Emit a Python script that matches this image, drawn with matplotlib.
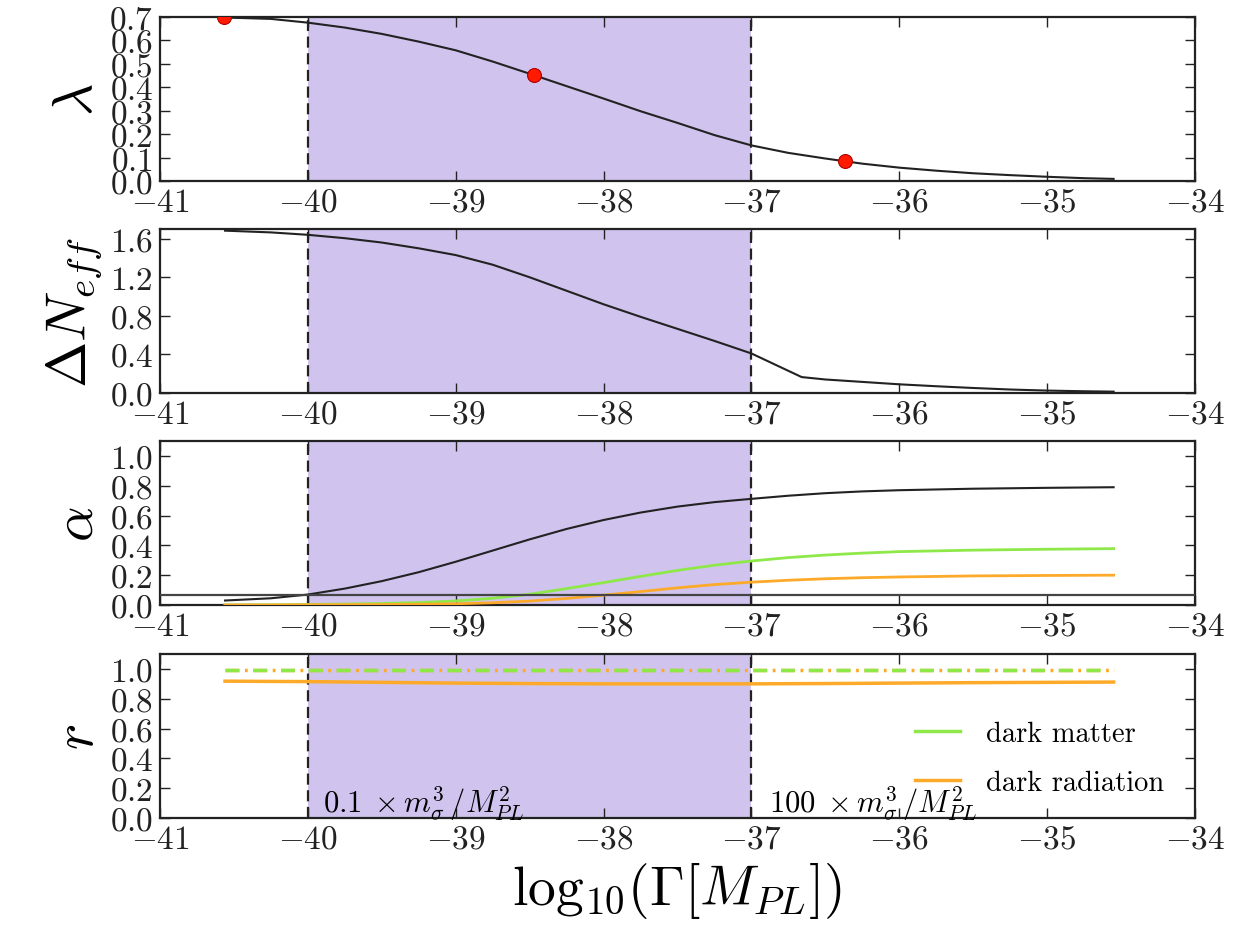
import matplotlib
matplotlib.use("Agg")
import matplotlib.pyplot as plt
from matplotlib.ticker import FormatStrFormatter, MultipleLocator

plt.rcParams['font.family'] = ['cmr10', 'DejaVu Serif']
plt.rcParams['mathtext.fontset'] = 'cm'
plt.rcParams['lines.scale_dashes'] = False
plt.rcParams['axes.unicode_minus'] = False

# ---------------- data ----------------
lam_x = [-40.57, -40.25, -40.0, -39.75, -39.5, -39.25, -39.0, -38.75, -38.5, -38.25, -38.0,
         -37.75, -37.5, -37.25, -37.0, -36.75, -36.5, -36.25, -36.0, -35.75, -35.5, -35.25,
         -35.0, -34.75, -34.55]
lam_y = [0.698, 0.692, 0.676, 0.655, 0.628, 0.595, 0.558, 0.510, 0.458, 0.405, 0.352,
         0.298, 0.248, 0.196, 0.152, 0.120, 0.096, 0.074, 0.057, 0.044, 0.033, 0.025,
         0.018, 0.012, 0.009]
dot_x = [-40.57, -38.47, -36.37]
dot_y = [0.698, 0.452, 0.084]

dn_x = [-40.56, -40.25, -40.0, -39.75, -39.5, -39.25, -39.0, -38.75, -38.5, -38.25, -38.0,
        -37.75, -37.5, -37.25, -37.0, -36.66, -36.5, -36.25, -36.0, -35.75, -35.5, -35.25,
        -35.0, -34.75, -34.55]
dn_y = [1.683, 1.665, 1.640, 1.605, 1.560, 1.500, 1.430, 1.330, 1.200, 1.060, 0.920,
        0.790, 0.665, 0.540, 0.410, 0.165, 0.140, 0.115, 0.090, 0.070, 0.052, 0.036,
        0.025, 0.018, 0.014]

al_x = [-40.56, -40.25, -40.0, -39.75, -39.5, -39.25, -39.0, -38.75, -38.5, -38.25, -38.0,
        -37.75, -37.5, -37.25, -37.0, -36.75, -36.5, -36.25, -36.0, -35.5, -35.0, -34.55]
al_tot = [0.030, 0.045, 0.070, 0.110, 0.160, 0.220, 0.290, 0.365, 0.440, 0.510, 0.570,
          0.620, 0.660, 0.690, 0.712, 0.733, 0.750, 0.762, 0.770, 0.780, 0.786, 0.790]
al_dm = [0.000, 0.001, 0.003, 0.006, 0.010, 0.016, 0.027, 0.045, 0.072, 0.110, 0.150,
         0.192, 0.232, 0.267, 0.295, 0.318, 0.335, 0.348, 0.358, 0.368, 0.374, 0.378]
al_dr = [0.000, 0.000, 0.001, 0.002, 0.003, 0.005, 0.008, 0.015, 0.026, 0.044, 0.066,
         0.090, 0.115, 0.137, 0.153, 0.166, 0.176, 0.183, 0.188, 0.195, 0.198, 0.200]
al_ref = 0.07

r_x = [-40.56, -40.0, -39.5, -39.0, -38.5, -38.0, -37.5, -37.0, -36.5, -36.0, -35.5, -35.0, -34.55]
r_dm = [0.99, 0.99, 0.99, 0.99, 0.99, 0.99, 0.99, 0.99, 0.99, 0.99, 0.99, 0.99, 0.99]
r_dr = [0.918, 0.915, 0.910, 0.905, 0.902, 0.900, 0.900, 0.900, 0.902, 0.905, 0.908, 0.910, 0.912]

band = (-40.0, -37.0)
xticks = [-41, -40, -39, -38, -37, -36, -35, -34]

# ---------------- figure ----------------
fig = plt.figure(figsize=(12.42, 9.29), dpi=100)
left, width, height = 0.1288, 0.8333, 0.1765
bottoms = [0.8041, 0.5759, 0.3477, 0.1184]
axes = [fig.add_axes([left, b, width, height]) for b in bottoms]

shade = '#d0c4ee'
green = '#8ee84a'
orange = '#fdaa2a'
black = '#222222'

for ax in axes:
    ax.axvspan(band[0], band[1], color=shade, lw=0, zorder=0)
    for xv in band:
        ax.axvline(xv, color=black, lw=1.6, dashes=(8, 4), zorder=3)
    ax.set_xlim(-41, -34)
    ax.set_xticks(xticks)
    ax.xaxis.set_major_formatter(FormatStrFormatter('$%d$'))
    ax.yaxis.set_major_formatter(FormatStrFormatter('$%.1f$'))
    ax.tick_params(direction='in', length=7, width=1.0, top=True, right=True,
                   labelsize=24, pad=5, colors=black)
    for s in ax.spines.values():
        s.set_linewidth(1.6)
        s.set_color(black)

# panel 1
ax = axes[0]
ax.plot(lam_x, lam_y, color=black, lw=1.5, zorder=4)
ax.plot(dot_x, dot_y, 'o', color='#ff1a00', mec='#b00000', mew=0.8, ms=10, zorder=5)
ax.set_ylim(0, 0.7)
ax.yaxis.set_major_locator(MultipleLocator(0.1))
ax.set_ylabel(r'$\lambda$', fontsize=40)

# panel 2
ax = axes[1]
ax.plot(dn_x, dn_y, color=black, lw=1.5, zorder=4)
ax.set_ylim(0, 1.7)
ax.set_yticks([0.0, 0.4, 0.8, 1.2, 1.6])
ax.set_ylabel(r'$\Delta N_{eff}$', fontsize=40)

# panel 3
ax = axes[2]
ax.plot(al_x, al_tot, color=black, lw=1.5, zorder=4)
ax.plot(al_x, al_dm, color=green, lw=2.0, zorder=4)
ax.plot(al_x, al_dr, color=orange, lw=2.0, zorder=4)
ax.axhline(al_ref, color='#444444', lw=1.6, zorder=4)
ax.set_ylim(0, 1.1)
ax.set_yticks([0.0, 0.2, 0.4, 0.6, 0.8, 1.0])
ax.set_ylabel(r'$\alpha$', fontsize=40)

# panel 4
ax = axes[3]
ax.plot(r_x, r_dm, color=orange, lw=2.5, dashes=(10, 4, 2, 4), zorder=4)
ax.plot(r_x, r_dm, color=green, lw=2.5, dashes=(10, 10), zorder=4)
ax.plot(r_x, r_dr, color=orange, lw=2.5, zorder=4)
ax.set_ylim(0, 1.1)
ax.set_yticks([0.0, 0.2, 0.4, 0.6, 0.8, 1.0])
ax.set_ylabel(r'$r$', fontsize=40)
ax.set_xlabel(r'$\mathrm{log}_{10}(\Gamma[M_{PL}])$', fontsize=40, labelpad=4)

h_dm = plt.Line2D([], [], color=green, lw=2.5)
h_dr = plt.Line2D([], [], color=orange, lw=2.5)
ax.legend([h_dm, h_dr], ['dark matter', 'dark radiation'], loc='lower right',
          bbox_to_anchor=(0.995, -0.02), frameon=False, fontsize=20.5,
          handlelength=1.6, labelspacing=0.8, handletextpad=0.9)

ax.text(-39.9, 0.04, r'$0.1\;\times m_{\sigma}^{3}\,/M_{PL}^{2}$', fontsize=22, zorder=6)
ax.text(-36.88, 0.04, r'$100\;\times m_{\sigma}^{3}\,/M_{PL}^{2}$', fontsize=22, zorder=6)

fig.savefig('out.png', dpi=100)
